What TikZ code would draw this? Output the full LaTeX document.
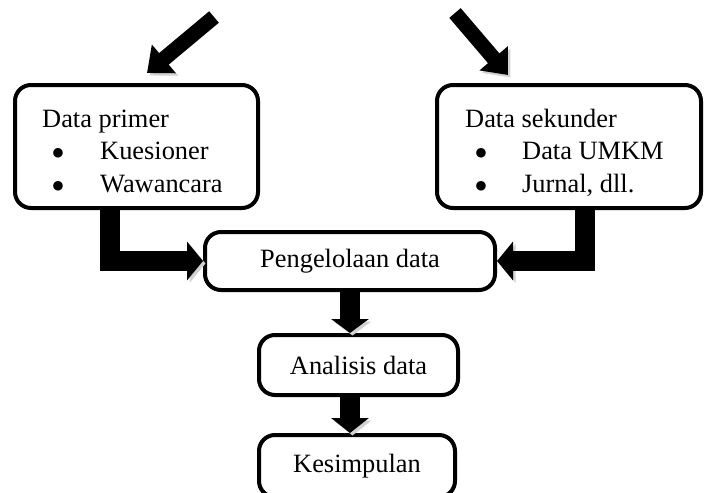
\documentclass[tikz,border=0pt]{standalone}
\usepackage{fontspec}
\setmainfont{Liberation Serif}
\newfontfamily\symfont{DejaVu Sans}
\usetikzlibrary{arrows.meta}
\begin{document}
\begin{tikzpicture}[x=1pt,y=-1pt,
  box/.style={draw, line width=4pt, rounded corners=16pt, inner sep=0pt, fill=white,
    font=\fontsize{26.4}{30}\selectfont},
  txt/.style={font=\fontsize{26.4}{30}\selectfont, inner sep=0pt, anchor=base west},
  bul/.style={font=\symfont\fontsize{12.5}{13}\selectfont, inner sep=0pt, anchor=center},
  flow/.style={line width=20pt, -{Triangle[length=16pt,width=38pt]},
    preaction={draw=black!18, transform canvas={shift={(2.5pt,-2.5pt)}}}},
  inflow/.style={line width=15pt, -{Triangle[length=22pt,width=36pt]},
    preaction={draw=black!18, transform canvas={shift={(2.5pt,-2.5pt)}}}}
]
\useasboundingbox (0,0) rectangle (705,493);

% boxes
\node[box, minimum width=243pt, minimum height=123pt] (primer) at (136.5,146.5) {};
\node[box, minimum width=264pt, minimum height=123pt] (sekunder) at (569,146.5) {};
\node[box, minimum width=290pt, minimum height=58pt] (olah) at (350,261) {Pengelolaan data};
\node[box, minimum width=199pt, minimum height=60pt] (analisis) at (358.5,365) {Analisis data};
\node[box, minimum width=196pt, minimum height=62pt] (simpul) at (357,466) {Kesimpulan};

% texts of list boxes
\node[txt] (p0) at (42,127) {Data primer};
\node[bul] (pb1) at (58,153) {●};
\node[txt] (p1) at (100,159) {Kuesioner};
\node[bul] (pb2) at (58,186) {●};
\node[txt] (p2) at (100,192) {Wawancara};
\node[txt] (s0) at (465,127) {Data sekunder};
\node[bul] (sb1) at (481,153) {●};
\node[txt] (s1) at (522,159) {Data UMKM};
\node[bul] (sb2) at (481,186) {●};
\node[txt] (s2) at (522,192) {Jurnal, dll.};

% free ends of incoming arrows
\coordinate (lt) at (214,17);
\coordinate (lh) at (147,73);
\coordinate (rt) at (455,13);
\coordinate (rh) at (508,75);
\coordinate (lx) at (110,0);
\coordinate (rx) at (585,0);

% connectors
\draw[inflow] (lt) -- (lh);
\draw[inflow] (rt) -- (rh);
\draw[flow] (primer.south -| lx) |- (olah.west);
\draw[flow] (sekunder.south -| rx) |- (olah.east);
\draw[flow, -{Triangle[length=14pt,width=37pt]}] (olah.south -| analisis.north) ++(-8.5,0) coordinate (a1) (a1) -- (a1 |- analisis.north);
\draw[flow, -{Triangle[length=15pt,width=37pt]}] (analisis.south) ++(-8.5,0) coordinate (a2) (a2) -- (a2 |- simpul.north);
\end{tikzpicture}
\end{document}
